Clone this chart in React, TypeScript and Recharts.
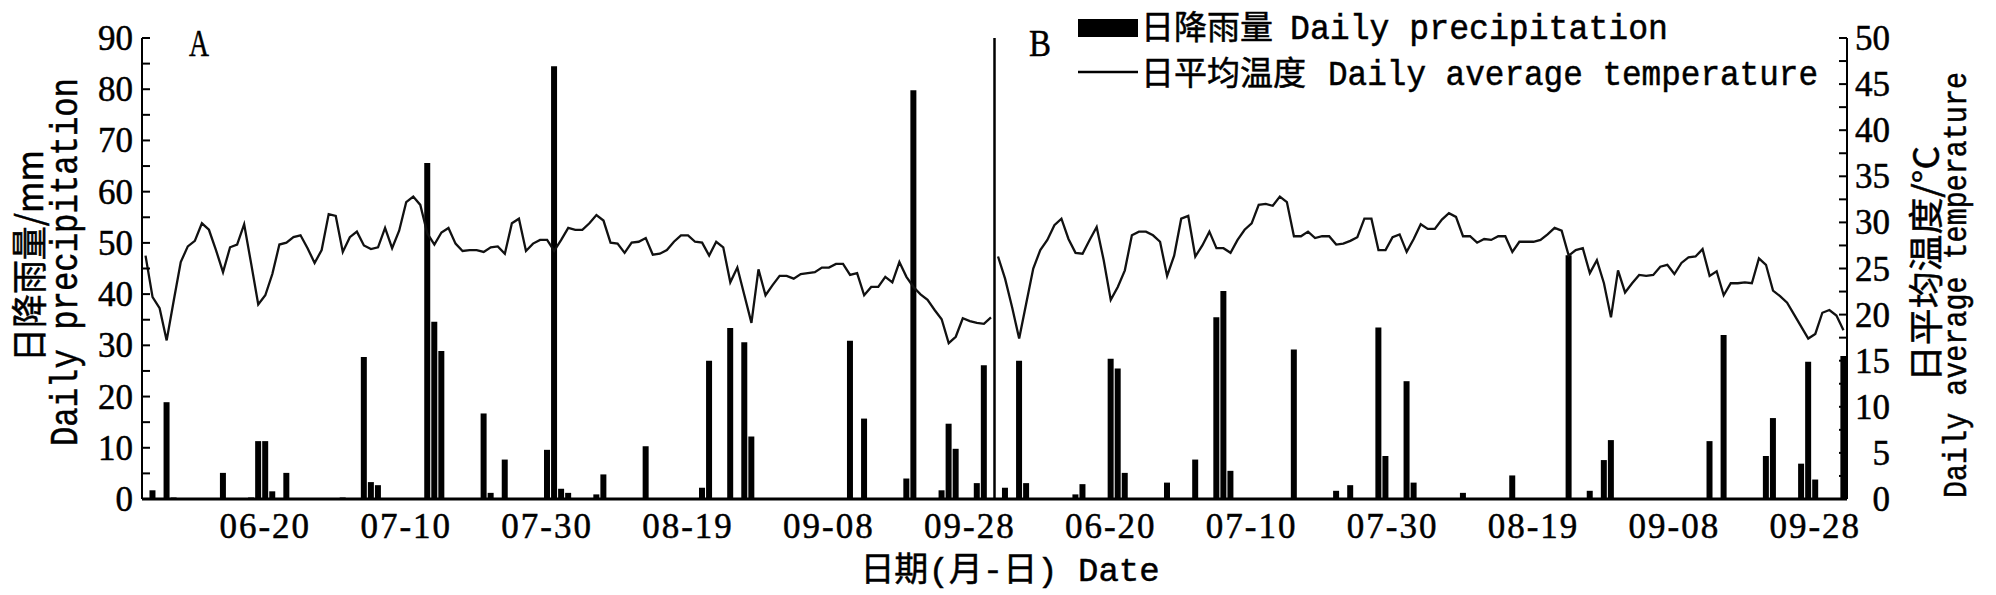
import { ComposedChart, Bar, Line, XAxis, YAxis, ReferenceLine } from "recharts";

// panel A starts 06-03, panel B starts 06-04, 121 days each
const START_A = [6, 3];
const START_B = [6, 4];

const TICK_DATES = ["06-20", "07-10", "07-30", "08-19", "09-08", "09-28"];
const RAIN_TICKS = [0, 5, 10, 15, 20, 25, 30, 35, 40, 45, 50, 55, 60, 65, 70, 75, 80, 85, 90];
const TEMP_TICKS = [0, 2.5, 5, 7.5, 10, 12.5, 15, 17.5, 20, 22.5, 25, 27.5, 30, 32.5, 35, 37.5, 40, 42.5, 45, 47.5, 50];

// daily precipitation (mm)
const RAIN_A = [
  0, 1.7, 0, 18.9, 0.3, 0, 0, 0, 0, 0,
  0, 5.1, 0, 0, 0, 0.3, 11.3, 11.3, 1.5, 0,
  5.1, 0, 0, 0, 0, 0, 0, 0, 0.3, 0,
  0, 27.7, 3.3, 2.7, 0, 0, 0, 0, 0, 0,
  65.6, 34.6, 28.9, 0, 0, 0, 0, 0, 16.7, 1.2,
  0, 7.7, 0, 0, 0, 0, 0, 9.6, 84.5, 2.0,
  1.2, 0, 0, 0, 0.9, 4.8, 0, 0, 0, 0,
  0, 10.3, 0.2, 0, 0, 0, 0, 0, 0, 2.2,
  27.0, 0, 0, 33.4, 0, 30.6, 12.2, 0, 0, 0,
  0, 0, 0, 0, 0, 0, 0, 0, 0, 0,
  30.9, 0, 15.7, 0.2, 0, 0, 0, 0, 4.0, 79.8,
  0, 0.2, 0, 1.7, 14.7, 9.8, 0, 0.2, 3.1, 26.1,
  0,
];

const RAIN_B = [
  0, 2.2, 0, 27.0, 3.1, 0, 0, 0, 0, 0,
  0, 0.9, 2.9, 0, 0, 0, 27.4, 25.5, 5.1, 0,
  0, 0, 0, 0, 3.2, 0, 0, 0, 7.7, 0,
  0, 35.5, 40.6, 5.5, 0, 0, 0, 0, 0, 0,
  0, 0, 29.2, 0, 0, 0, 0, 0, 1.6, 0,
  2.7, 0, 0, 0, 33.5, 8.4, 0, 0, 23.0, 3.2,
  0, 0, 0, 0, 0, 0, 1.2, 0, 0, 0,
  0, 0, 0, 4.6, 0, 0, 0, 0, 0, 0,
  0, 47.6, 0, 0, 1.6, 0, 7.6, 11.5, 0, 0,
  0, 0, 0, 0, 0, 0, 0, 0, 0, 0,
  0, 11.3, 0, 32.0, 0, 0, 0, 0, 0, 8.4,
  15.8, 0, 0, 0, 6.9, 26.8, 3.8, 0, 0, 0,
  27.9,
];

// daily average temperature (°C)
const TEMP_A = [
  26.4, 21.9, 20.7, 17.2, 21.5, 25.7, 27.4, 28.0, 29.9, 29.2,
  27.0, 24.6, 27.3, 27.6, 29.8, 25.5, 21.1, 22.1, 24.4, 27.6,
  27.8, 28.4, 28.6, 27.2, 25.6, 27.0, 30.9, 30.7, 26.8, 28.4,
  29.0, 27.5, 27.1, 27.3, 29.4, 27.2, 29.1, 32.2, 32.8, 31.9,
  28.8, 27.6, 28.9, 29.4, 27.7, 26.9, 27.0, 27.0, 26.8, 27.3,
  27.4, 26.6, 29.9, 30.4, 26.9, 27.7, 28.1, 28.1, 26.9, 28.1,
  29.4, 29.2, 29.2, 29.9, 30.8, 30.2, 27.8, 27.7, 26.7, 27.8,
  27.9, 28.3, 26.5, 26.6, 27.0, 27.9, 28.6, 28.6, 27.9, 27.8,
  26.4, 27.9, 27.3, 23.5, 25.1, 22.1, 19.1, 24.9, 22.1, 23.2,
  24.2, 24.2, 23.9, 24.4, 24.5, 24.6, 25.1, 25.1, 25.5, 25.5,
  24.3, 24.5, 22.1, 23.0, 23.0, 24.1, 23.5, 25.7, 24.1, 23.0,
  22.2, 21.6, 20.5, 19.5, 16.9, 17.6, 19.6, 19.3, 19.1, 19.0,
  19.7,
];

const TEMP_B = [
  26.3, 23.9, 20.8, 17.4, 21.2, 25.0, 27.0, 28.1, 29.7, 30.4,
  28.2, 26.7, 26.6, 28.1, 29.5, 25.9, 21.6, 23.0, 24.8, 28.6,
  29.0, 29.0, 28.6, 27.9, 24.2, 26.4, 30.4, 30.7, 26.3, 27.5,
  29.0, 27.2, 27.2, 26.7, 28.1, 29.2, 29.9, 31.9, 32.0, 31.8,
  32.8, 32.2, 28.5, 28.5, 29.0, 28.3, 28.5, 28.5, 27.6, 27.7,
  28.0, 28.4, 30.4, 30.4, 27.0, 27.0, 28.4, 28.7, 26.8, 28.2,
  29.8, 29.3, 29.3, 30.3, 31.0, 30.6, 28.5, 28.5, 27.8, 28.2,
  28.1, 28.5, 28.5, 26.8, 27.9, 27.9, 27.9, 28.1, 28.7, 29.4,
  29.1, 26.4, 27.0, 27.2, 24.5, 25.9, 23.4, 19.7, 24.8, 22.4,
  23.4, 24.3, 24.2, 24.3, 25.2, 25.4, 24.4, 25.6, 26.2, 26.3,
  27.1, 24.2, 24.7, 22.1, 23.4, 23.4, 23.5, 23.4, 26.1, 25.4,
  22.6, 22.0, 21.3, 20.0, 18.7, 17.4, 17.9, 20.2, 20.5, 19.9,
  18.3,
];

const SERIF = "'Liberation Serif', 'Times New Roman', serif";
const MONO = "'Liberation Mono', 'Courier New', monospace";
const CJK = "'Noto Sans CJK SC', sans-serif";

// slight outline so the glyphs read as heavy as the scanned original
const INK = { fill: "#000", stroke: "#000", strokeWidth: 0.5 };

function mmdd(start: number[], k: number) {
  const d = new Date(Date.UTC(2001, start[0] - 1, start[1] + k));
  const m = String(d.getUTCMonth() + 1).padStart(2, "0");
  const day = String(d.getUTCDate()).padStart(2, "0");
  return `${m}-${day}`;
}

const rows = [
  ...TEMP_A.map((t, k) => ({ key: "A" + mmdd(START_A, k), rain: RAIN_A[k], tempA: t, tempB: null })),
  ...TEMP_B.map((t, k) => ({ key: "B" + mmdd(START_B, k), rain: RAIN_B[k], tempA: null, tempB: t })),
];

const tickKeys = [...TICK_DATES.map((d) => "A" + d), ...TICK_DATES.map((d) => "B" + d)];
const firstB = rows[TEMP_A.length].key;

function DateTick(props: any) {
  const { x, y, payload } = props;
  return (
    <text x={x} y={y + 39} textAnchor="middle" fontFamily={SERIF} fontSize={35} letterSpacing={2} {...INK}>
      {String(payload.value).slice(1)}
    </text>
  );
}

function RainTick(props: any) {
  const { x, y, payload } = props;
  const v = payload.value;
  return (
    <g>
      <line x1={x} x2={x + 8} y1={y} y2={y} stroke="#000" strokeWidth={2} />
      {v % 10 === 0 && (
        <text x={x - 9} y={y + 12} textAnchor="end" fontFamily={SERIF} fontSize={35} {...INK}>
          {v}
        </text>
      )}
    </g>
  );
}

function TempTick(props: any) {
  const { x, y, payload } = props;
  const v = payload.value;
  return (
    <g>
      <line x1={x - 8} x2={x} y1={y} y2={y} stroke="#000" strokeWidth={2} />
      {v % 5 === 0 && (
        <text x={x + 43} y={y + 12} textAnchor="end" fontFamily={SERIF} fontSize={35} {...INK}>
          {v}
        </text>
      )}
    </g>
  );
}

export default function App() {
  return (
    <div style={{ position: "absolute", left: 0, top: 0, width: 1996, height: 595, background: "#fff" }}>
      <ComposedChart
        width={1996}
        height={595}
        data={rows}
        margin={{ top: 38, right: 89, bottom: 56, left: 82 }}
        barCategoryGap="6%"
      >
        <XAxis
          dataKey="key"
          ticks={tickKeys}
          interval={0}
          tick={<DateTick />}
          tickLine={false}
          tickSize={0}
          tickMargin={0}
          height={40}
          axisLine={{ stroke: "#000", strokeWidth: 3 }}
        />
        <YAxis
          yAxisId="rain"
          domain={[0, 90]}
          ticks={RAIN_TICKS}
          interval={0}
          width={60}
          tick={<RainTick />}
          tickLine={false}
          tickSize={0}
          tickMargin={0}
          axisLine={{ stroke: "#000", strokeWidth: 2 }}
        />
        <YAxis
          yAxisId="temp"
          orientation="right"
          domain={[0, 50]}
          ticks={TEMP_TICKS}
          interval={0}
          width={60}
          tick={<TempTick />}
          tickLine={false}
          tickSize={0}
          tickMargin={0}
          axisLine={{ stroke: "#000", strokeWidth: 2 }}
        />
        <Bar yAxisId="rain" dataKey="rain" fill="#000" isAnimationActive={false} />
        <Line yAxisId="temp" dataKey="tempA" stroke="#111" strokeWidth={2.3} dot={false} isAnimationActive={false} connectNulls={false} />
        <Line yAxisId="temp" dataKey="tempB" stroke="#111" strokeWidth={2.3} dot={false} isAnimationActive={false} connectNulls={false} />
        <ReferenceLine yAxisId="rain" x={firstB} position="start" stroke="#000" strokeWidth={2.5} />
      </ComposedChart>

      <svg width={1996} height={595} style={{ position: "absolute", left: 0, top: 0, pointerEvents: "none" }}>
        {/* panel labels */}
        <text x={199} y={56} textAnchor="middle" fontFamily={SERIF} fontSize={38} textLength={20} lengthAdjust="spacingAndGlyphs" {...INK}>A</text>
        <text x={1040} y={56} textAnchor="middle" fontFamily={SERIF} fontSize={38} textLength={22} lengthAdjust="spacingAndGlyphs" {...INK}>B</text>

        {/* legend */}
        <rect x={1078} y={19} width={60} height={18} fill="#000" />
        <text x={1141} y={39} fontFamily={CJK} fontSize={33} {...INK}>日降雨量</text>
        <text x={1290} y={39} fontFamily={MONO} fontSize={35} textLength={378} lengthAdjust="spacingAndGlyphs" {...INK}>Daily precipitation</text>
        <line x1={1078} x2={1138} y1={72} y2={72} stroke="#000" strokeWidth={2.5} />
        <text x={1141} y={85} fontFamily={CJK} fontSize={33} {...INK}>日平均温度</text>
        <text x={1328} y={85} fontFamily={MONO} fontSize={35} textLength={490} lengthAdjust="spacingAndGlyphs" {...INK}>Daily average temperature</text>

        {/* left axis title */}
        <text transform="translate(27,256) rotate(-90)" textAnchor="middle" dominantBaseline="central" fontFamily={CJK} fontSize={36} textLength={212} lengthAdjust="spacingAndGlyphs" {...INK}>日降雨量/mm</text>
        <text transform="translate(66,262) rotate(-90)" textAnchor="middle" dominantBaseline="central" fontFamily={MONO} fontSize={38} textLength={368} lengthAdjust="spacingAndGlyphs" {...INK}>Daily precipitation</text>

        {/* right axis title */}
        <text transform="translate(1923,264) rotate(-90)" textAnchor="middle" dominantBaseline="central" fontFamily={CJK} fontSize={35} textLength={236} lengthAdjust="spacingAndGlyphs" {...INK}>日平均温度/°C</text>
        <text transform="translate(1957,285) rotate(-90)" textAnchor="middle" dominantBaseline="central" fontFamily={MONO} fontSize={34} textLength={426} lengthAdjust="spacingAndGlyphs" {...INK}>Daily average temperature</text>

        {/* x axis title */}
        <text x={1010} y={581} textAnchor="middle" fontSize={34} {...INK}>
          <tspan fontFamily={CJK}>日期</tspan>
          <tspan fontFamily={MONO}>(</tspan>
          <tspan fontFamily={CJK}>月</tspan>
          <tspan fontFamily={MONO}>-</tspan>
          <tspan fontFamily={CJK}>日</tspan>
          <tspan fontFamily={MONO}>) Date</tspan>
        </text>
      </svg>
    </div>
  );
}
